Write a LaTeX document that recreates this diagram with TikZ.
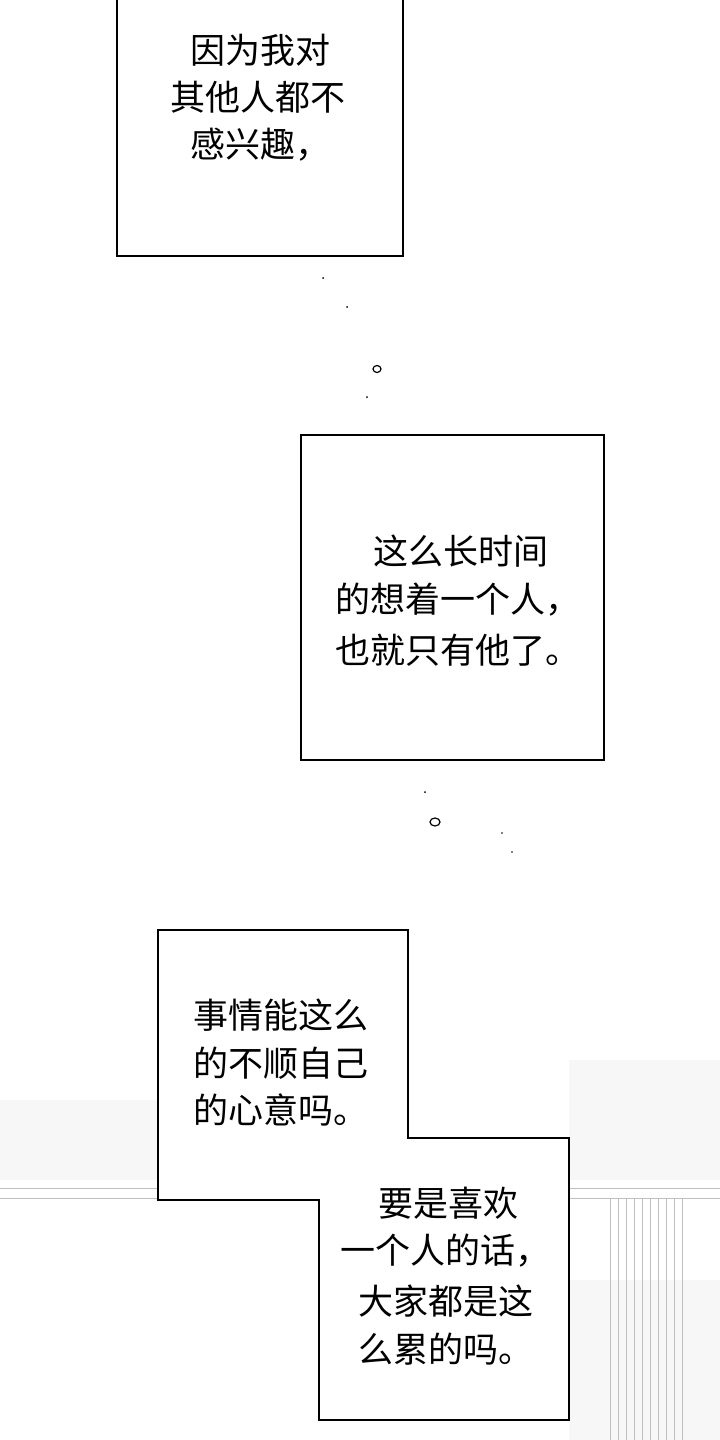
\documentclass[tikz,border=0pt]{standalone}
\usepackage{fontspec}
\newfontfamily\cjk{Noto Sans CJK SC}
\begin{document}
\begin{tikzpicture}[x=1pt,y=-1pt,
  box/.style={draw=black,line width=2pt,fill=white},
  txt/.style={anchor=west,font=\cjk\fontsize{35}{40}\selectfont,inner sep=0pt},
  bg/.style={draw=black!25,line width=0.8pt}]
\useasboundingbox (0,0) rectangle (720,1440);
\fill[white] (0,0) rectangle (720,1440);
% faint background
\fill[black!3] (0,1100) rectangle (158,1180);
\fill[black!3] (569,1060) rectangle (720,1180);
\fill[black!3] (569,1280) rectangle (720,1440);
\draw[bg] (0,1188) -- (158,1188);
\draw[bg] (0,1198) -- (158,1198);
\draw[bg] (569,1188) -- (720,1188);
\draw[bg] (569,1198) -- (720,1198);
\foreach \x in {610,618,626,634,642,650,658,666,674,682}
  \draw[bg] (\x,1198) -- (\x,1440);
% boxes
\draw[box] (117,-5) rectangle (403,256);
\draw[box] (301,435) rectangle (604,760);
\draw[box] (158,930) -- (408,930) -- (408,1138) -- (569,1138) -- (569,1420)
  -- (319,1420) -- (319,1200) -- (158,1200) -- cycle;
% text
\begin{scope}[every node/.append style={font=\cjk\bfseries\fontsize{35}{40}\selectfont}]
\node[txt] (a1) at (190,50) {因为我对};
\node[txt] (a2) at (170,97) {其他人都不};
\node[txt] (a3) at (190,145) {感兴趣，};
\node[txt] (b1) at (373,551) {这么长时间};
\node[txt] (b2) at (335,600) {的想着一个人，};
\node[txt] (b3) at (335,650) {也就只有他了。};
\node[txt] (c1) at (193,1015) {事情能这么};
\node[txt] (c2) at (193,1063) {的不顺自己};
\node[txt] (c3) at (193,1110) {的心意吗。};
\node[txt] (d1) at (378,1203) {要是喜欢};
\node[txt] (d2) at (340,1251) {一个人的话，};
\node[txt] (d3) at (358,1301) {大家都是这};
\node[txt] (d4) at (358,1349) {么累的吗。};
\end{scope}
% dots
\fill (323,278) circle (1pt);
\fill (347,307) circle (1pt);
\draw[line width=1.2pt] (377,369) ellipse (4pt and 3.5pt);
\fill (367,397) circle (1pt);
\fill (425,792) circle (1pt);
\draw[line width=1.2pt] (435,822) ellipse (5pt and 4pt);
\fill (502,833) circle (0.8pt);
\fill (512,852) circle (0.8pt);
\end{tikzpicture}
\end{document}
